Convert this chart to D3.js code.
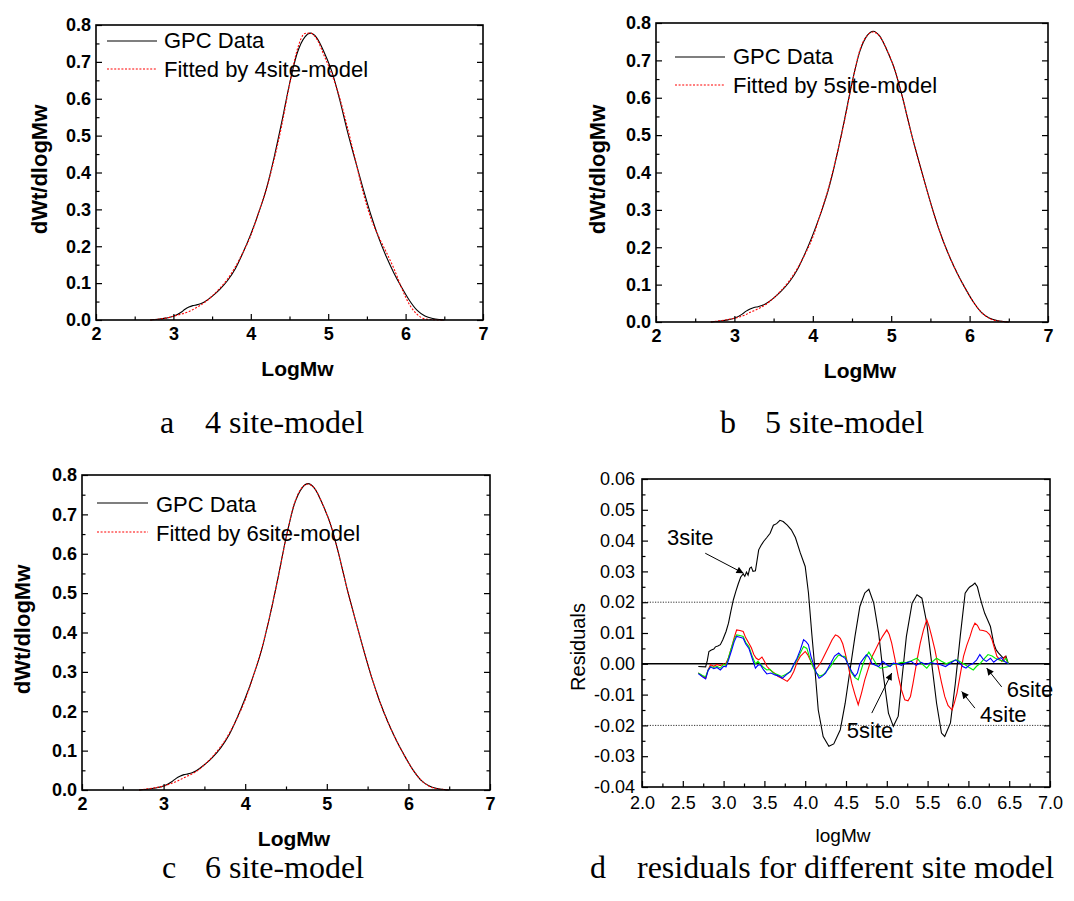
<!DOCTYPE html>
<html>
<head>
<meta charset="utf-8">
<script src="https://cdn.jsdelivr.net/npm/d3@7"></script>
<style>
  html, body { margin: 0; padding: 0; background: #fff; }
  svg { display: block; }
</style>
</head>
<body>
<svg id="chart" width="1074" height="901"></svg>
<script>
// ---------------- DATA ----------------
// GPC molecular weight distribution (logMw, dWt/dlogMw)
const gpcData = [[2.70,0.000],[2.80,0.002],[2.90,0.005],[3.00,0.010],[3.10,0.021],[3.15,0.029],[3.20,0.035],[3.25,0.039],[3.30,0.041],[3.35,0.044],[3.40,0.049],[3.50,0.064],[3.60,0.083],[3.70,0.107],[3.80,0.139],[3.90,0.183],[4.00,0.233],[4.10,0.290],[4.20,0.355],[4.30,0.440],[4.40,0.537],[4.50,0.640],[4.60,0.724],[4.70,0.768],[4.77,0.778],[4.85,0.766],[4.95,0.725],[5.05,0.672],[5.15,0.596],[5.25,0.510],[5.35,0.432],[5.45,0.357],[5.55,0.286],[5.65,0.224],[5.75,0.172],[5.85,0.127],[5.95,0.088],[6.05,0.053],[6.15,0.026],[6.25,0.011],[6.35,0.004],[6.45,0.001],[6.50,0.000]];

const fit4site = [[2.70,0.000],[2.80,0.002],[2.90,0.005],[3.00,0.010],[3.10,0.016],[3.15,0.019],[3.20,0.023],[3.25,0.028],[3.30,0.034],[3.35,0.040],[3.40,0.047],[3.50,0.065],[3.60,0.086],[3.70,0.111],[3.80,0.144],[3.90,0.184],[4.00,0.229],[4.10,0.291],[4.20,0.354],[4.30,0.434],[4.40,0.528],[4.50,0.638],[4.60,0.733],[4.70,0.777],[4.77,0.778],[4.85,0.763],[4.95,0.716],[5.05,0.665],[5.15,0.601],[5.25,0.521],[5.35,0.435],[5.45,0.347],[5.55,0.277],[5.65,0.227],[5.75,0.184],[5.85,0.139],[5.95,0.086],[6.05,0.042],[6.15,0.015],[6.25,0.003],[6.35,0.001],[6.45,0.000],[6.50,0.000]];

const fit5site = [[2.70,0.000],[2.80,0.003],[2.90,0.006],[3.00,0.010],[3.10,0.016],[3.15,0.020],[3.20,0.026],[3.25,0.030],[3.30,0.035],[3.35,0.040],[3.40,0.047],[3.50,0.064],[3.60,0.085],[3.70,0.110],[3.80,0.142],[3.90,0.181],[4.00,0.227],[4.10,0.291],[4.20,0.358],[4.30,0.441],[4.40,0.534],[4.50,0.638],[4.60,0.727],[4.70,0.768],[4.77,0.776],[4.85,0.765],[4.95,0.726],[5.05,0.672],[5.15,0.596],[5.25,0.510],[5.35,0.431],[5.45,0.357],[5.55,0.286],[5.65,0.224],[5.75,0.172],[5.85,0.127],[5.95,0.088],[6.05,0.053],[6.15,0.026],[6.25,0.010],[6.35,0.003],[6.45,0.001],[6.50,0.000]];

const fit6site = [[2.70,0.000],[2.80,0.003],[2.90,0.006],[3.00,0.010],[3.10,0.017],[3.15,0.021],[3.20,0.026],[3.25,0.031],[3.30,0.036],[3.35,0.041],[3.40,0.047],[3.50,0.064],[3.60,0.085],[3.70,0.110],[3.80,0.142],[3.90,0.182],[4.00,0.229],[4.10,0.290],[4.20,0.357],[4.30,0.441],[4.40,0.536],[4.50,0.639],[4.60,0.726],[4.70,0.769],[4.77,0.777],[4.85,0.766],[4.95,0.725],[5.05,0.672],[5.15,0.596],[5.25,0.510],[5.35,0.432],[5.45,0.357],[5.55,0.286],[5.65,0.224],[5.75,0.172],[5.85,0.127],[5.95,0.088],[6.05,0.053],[6.15,0.026],[6.25,0.010],[6.35,0.003],[6.45,0.001],[6.50,0.000]];

// Residuals (logMw, residual)
const resid3site = [[2.69,-0.0009],[2.78,-0.0010],[2.80,0.0010],[2.82,0.0040],[2.85,0.0045],[2.88,0.0048],[2.90,0.0055],[2.93,0.0058],[2.96,0.0062],[2.99,0.0078],[3.03,0.0105],[3.06,0.0132],[3.09,0.0172],[3.12,0.0208],[3.15,0.0235],[3.18,0.0260],[3.21,0.0282],[3.24,0.0292],[3.26,0.0284],[3.28,0.0298],[3.30,0.0288],[3.32,0.0310],[3.34,0.0314],[3.36,0.0300],[3.39,0.0302],[3.43,0.0370],[3.46,0.0385],[3.49,0.0397],[3.53,0.0410],[3.57,0.0424],[3.61,0.0450],[3.65,0.0455],[3.69,0.0466],[3.73,0.0462],[3.78,0.0450],[3.83,0.0435],[3.88,0.0410],[3.94,0.0360],[4.00,0.0316],[4.04,0.0230],[4.08,0.0100],[4.12,-0.0020],[4.16,-0.0150],[4.22,-0.0236],[4.29,-0.0268],[4.35,-0.0260],[4.43,-0.0214],[4.49,-0.0128],[4.55,-0.0019],[4.61,0.0089],[4.67,0.0186],[4.73,0.0230],[4.78,0.0242],[4.84,0.0197],[4.90,0.0100],[4.96,-0.0041],[5.02,-0.0160],[5.08,-0.0203],[5.14,-0.0170],[5.18,-0.0063],[5.24,0.0089],[5.31,0.0197],[5.37,0.0224],[5.43,0.0213],[5.49,0.0132],[5.55,0.0002],[5.61,-0.0128],[5.67,-0.0225],[5.71,-0.0236],[5.78,-0.0192],[5.84,-0.0063],[5.90,0.0089],[5.96,0.0229],[6.00,0.0245],[6.02,0.0250],[6.05,0.0255],[6.08,0.0262],[6.11,0.0250],[6.14,0.0218],[6.17,0.0190],[6.20,0.0164],[6.24,0.0140],[6.27,0.0121],[6.31,0.0067],[6.34,0.0045],[6.37,0.0035],[6.43,0.0018],[6.46,0.0025],[6.49,0.0000]];

const resid4site = [[2.69,-0.0030],[2.74,-0.0040],[2.78,-0.0047],[2.81,-0.0020],[2.84,-0.0003],[2.88,-0.0008],[2.92,-0.0002],[2.96,-0.0006],[3.00,0.0000],[3.02,-0.0004],[3.06,0.0020],[3.10,0.0056],[3.13,0.0085],[3.16,0.0110],[3.20,0.0108],[3.24,0.0105],[3.27,0.0085],[3.31,0.0067],[3.34,0.0052],[3.37,0.0030],[3.40,0.0018],[3.43,0.0013],[3.47,0.0022],[3.50,0.0008],[3.53,-0.0008],[3.57,-0.0020],[3.62,-0.0030],[3.67,-0.0041],[3.72,-0.0048],[3.78,-0.0057],[3.82,-0.0045],[3.86,-0.0025],[3.90,0.0005],[3.94,0.0024],[4.00,0.0040],[4.03,0.0030],[4.06,0.0013],[4.12,-0.0020],[4.16,-0.0008],[4.20,0.0008],[4.25,0.0035],[4.29,0.0056],[4.33,0.0078],[4.37,0.0094],[4.40,0.0090],[4.43,0.0083],[4.46,0.0065],[4.49,0.0035],[4.53,-0.0010],[4.57,-0.0063],[4.61,-0.0100],[4.65,-0.0133],[4.69,-0.0095],[4.73,-0.0052],[4.78,-0.0010],[4.82,0.0024],[4.86,0.0045],[4.90,0.0067],[4.95,0.0090],[5.00,0.0110],[5.03,0.0095],[5.06,0.0067],[5.10,0.0015],[5.14,-0.0041],[5.18,-0.0085],[5.22,-0.0117],[5.26,-0.0120],[5.29,-0.0106],[5.32,-0.0065],[5.35,-0.0020],[5.38,0.0025],[5.41,0.0067],[5.45,0.0110],[5.49,0.0143],[5.52,0.0120],[5.55,0.0089],[5.59,0.0045],[5.63,-0.0009],[5.67,-0.0060],[5.71,-0.0106],[5.75,-0.0135],[5.80,-0.0150],[5.83,-0.0125],[5.86,-0.0095],[5.90,-0.0035],[5.94,0.0024],[5.98,0.0060],[6.02,0.0089],[6.05,0.0115],[6.08,0.0132],[6.11,0.0125],[6.14,0.0110],[6.18,0.0108],[6.22,0.0105],[6.26,0.0095],[6.29,0.0078],[6.32,0.0050],[6.35,0.0024],[6.38,0.0015],[6.41,0.0008],[6.45,0.0024],[6.47,0.0010],[6.49,0.0000]];

const resid5site = [[2.69,-0.0030],[2.74,-0.0038],[2.78,-0.0042],[2.81,-0.0020],[2.84,-0.0009],[2.88,-0.0012],[2.92,-0.0008],[2.96,-0.0014],[3.00,-0.0002],[3.03,-0.0005],[3.06,0.0020],[3.10,0.0056],[3.13,0.0080],[3.16,0.0094],[3.20,0.0092],[3.24,0.0089],[3.27,0.0070],[3.31,0.0056],[3.35,0.0025],[3.39,0.0000],[3.42,0.0008],[3.45,0.0000],[3.49,-0.0012],[3.53,-0.0020],[3.57,-0.0018],[3.61,-0.0030],[3.66,-0.0035],[3.71,-0.0041],[3.76,-0.0035],[3.82,-0.0025],[3.86,-0.0005],[3.90,0.0013],[3.94,0.0035],[3.98,0.0056],[4.02,0.0050],[4.05,0.0025],[4.08,0.0000],[4.11,-0.0018],[4.14,-0.0030],[4.18,-0.0040],[4.22,-0.0036],[4.26,-0.0025],[4.31,-0.0009],[4.36,0.0012],[4.41,0.0029],[4.45,0.0025],[4.49,0.0024],[4.53,-0.0005],[4.57,-0.0030],[4.61,-0.0045],[4.65,-0.0052],[4.68,-0.0025],[4.71,0.0000],[4.75,0.0025],[4.78,0.0038],[4.81,0.0025],[4.84,0.0013],[4.88,-0.0005],[4.92,-0.0014],[4.97,-0.0012],[5.02,-0.0009],[5.07,-0.0002],[5.12,0.0000],[5.18,0.0005],[5.24,0.0004],[5.30,0.0010],[5.37,0.0018],[5.43,0.0000],[5.49,-0.0014],[5.55,0.0005],[5.61,0.0018],[5.67,0.0008],[5.73,0.0000],[5.80,0.0008],[5.86,0.0013],[5.91,0.0005],[5.96,-0.0003],[6.01,-0.0012],[6.06,-0.0020],[6.10,-0.0008],[6.14,0.0000],[6.19,0.0015],[6.24,0.0030],[6.29,0.0025],[6.33,0.0018],[6.38,0.0012],[6.43,0.0008],[6.46,0.0018],[6.49,0.0000]];

const resid6site = [[2.69,-0.0032],[2.74,-0.0042],[2.78,-0.0049],[2.81,-0.0022],[2.84,-0.0010],[2.88,-0.0016],[2.92,-0.0012],[2.96,-0.0020],[3.00,-0.0008],[3.03,-0.0010],[3.06,0.0012],[3.10,0.0045],[3.13,0.0072],[3.16,0.0089],[3.20,0.0086],[3.24,0.0083],[3.27,0.0065],[3.31,0.0050],[3.35,0.0018],[3.39,-0.0014],[3.42,-0.0005],[3.45,-0.0003],[3.49,-0.0020],[3.53,-0.0033],[3.58,-0.0030],[3.63,-0.0036],[3.68,-0.0040],[3.72,-0.0047],[3.77,-0.0035],[3.82,-0.0025],[3.86,-0.0002],[3.90,0.0018],[3.94,0.0045],[3.98,0.0078],[4.01,0.0072],[4.04,0.0062],[4.07,0.0025],[4.10,0.0000],[4.13,-0.0025],[4.17,-0.0047],[4.21,-0.0040],[4.25,-0.0030],[4.31,0.0000],[4.36,0.0025],[4.41,0.0035],[4.45,0.0025],[4.49,0.0018],[4.53,-0.0005],[4.57,-0.0025],[4.61,-0.0041],[4.64,-0.0030],[4.67,0.0000],[4.71,0.0015],[4.75,0.0029],[4.78,0.0022],[4.82,0.0000],[4.86,-0.0005],[4.90,-0.0009],[4.95,0.0008],[5.00,-0.0003],[5.04,-0.0009],[5.08,0.0002],[5.13,0.0000],[5.18,-0.0005],[5.24,0.0003],[5.30,0.0008],[5.36,-0.0005],[5.42,0.0005],[5.48,-0.0002],[5.54,0.0004],[5.60,0.0000],[5.66,-0.0003],[5.72,-0.0009],[5.78,0.0002],[5.84,0.0013],[5.89,0.0004],[5.93,-0.0009],[5.97,-0.0014],[6.01,-0.0005],[6.05,0.0000],[6.10,0.0012],[6.14,0.0030],[6.18,0.0015],[6.22,0.0008],[6.27,0.0018],[6.31,0.0005],[6.35,0.0014],[6.40,0.0020],[6.44,0.0008],[6.49,0.0000]];

// Tick labels
const curveXTicks = ["2","3","4","5","6","7"];
const curveYTicks = ["0.0","0.1","0.2","0.3","0.4","0.5","0.6","0.7","0.8"];
const residXTicks = ["2.0","2.5","3.0","3.5","4.0","4.5","5.0","5.5","6.0","6.5","7.0"];
const residYTicks = ["-0.04","-0.03","-0.02","-0.01","0.00","0.01","0.02","0.03","0.04","0.05","0.06"];

// Legend / annotation labels
const legendLabels = ["GPC Data","Fitted by 4site-model","Fitted by 5site-model","Fitted by 6site-model"];
const captions = ["4 site-model","5 site-model","6 site-model","residuals for different site model"];
const residLabels = ["3site","4site","5site","6site"];

// ---------------- DRAWING ----------------
const svg = d3.select("#chart");
const SANS = "'Liberation Sans', Arial, Helvetica, sans-serif";
const SERIF = "'Liberation Serif', 'Times New Roman', serif";

function frameAxes(g, x, y, opt) {
  const [x0, x1] = x.range();
  const [y0, y1] = y.range(); // y0 bottom, y1 top
  const fw = opt.bold ? "bold" : "normal";
  const styleLines = sel => sel.selectAll("line").attr("stroke", "#000").attr("stroke-width", 1.2);
  // bottom axis major
  const bx = g.append("g").attr("transform", `translate(0,${y0})`)
    .call(d3.axisBottom(x).tickValues(opt.xMajor).tickSize(-opt.major).tickPadding(opt.xPad)
      .tickFormat((d, i) => opt.xLabels[i]));
  bx.select(".domain").remove();
  bx.selectAll("text").attr("font-family", SANS).attr("font-size", opt.tickFont).attr("font-weight", fw).attr("fill", "#000");
  styleLines(bx);
  const bxm = g.append("g").attr("transform", `translate(0,${y0})`)
    .call(d3.axisBottom(x).tickValues(opt.xMinor).tickSize(-opt.minor).tickFormat(""));
  bxm.select(".domain").remove();
  styleLines(bxm);
  // left axis
  const ly = g.append("g").attr("transform", `translate(${x0},0)`)
    .call(d3.axisLeft(y).tickValues(opt.yMajor).tickSize(-opt.major).tickPadding(opt.yPad)
      .tickFormat((d, i) => opt.yLabels[i]));
  ly.select(".domain").remove();
  ly.selectAll("text").attr("font-family", SANS).attr("font-size", opt.tickFont).attr("font-weight", fw).attr("fill", "#000");
  styleLines(ly);
  const lym = g.append("g").attr("transform", `translate(${x0},0)`)
    .call(d3.axisLeft(y).tickValues(opt.yMinor).tickSize(-opt.minor).tickFormat(""));
  lym.select(".domain").remove();
  styleLines(lym);
  // right axis (mirror ticks)
  const ry = g.append("g").attr("transform", `translate(${x1},0)`)
    .call(d3.axisRight(y).tickValues(opt.yMajor).tickSize(-opt.major).tickFormat(""));
  ry.select(".domain").remove();
  styleLines(ry);
  const rym = g.append("g").attr("transform", `translate(${x1},0)`)
    .call(d3.axisRight(y).tickValues(opt.yMinor).tickSize(-opt.minor).tickFormat(""));
  rym.select(".domain").remove();
  styleLines(rym);
  // frame
  g.append("rect").attr("x", x0).attr("y", y1).attr("width", x1 - x0).attr("height", y0 - y1)
    .attr("fill", "none").attr("stroke", "#000").attr("stroke-width", 1.6);
}

function range(a, b, s) { const r = []; for (let v = a; v <= b + 1e-9; v += s) r.push(+v.toFixed(4)); return r; }

function curvePanel(p) {
  const g = svg.append("g");
  const x = d3.scaleLinear().domain([2, 7]).range([p.left, p.right]);
  const y = d3.scaleLinear().domain([0, 0.8]).range([p.bottom, p.top]);
  const line = d3.line().x(d => x(d[0])).y(d => y(d[1])).curve(d3.curveMonotoneX);

  g.append("path").datum(gpcData).attr("d", line).attr("fill", "none").attr("stroke", "#000").attr("stroke-width", 1.1);
  g.append("path").datum(p.fit).attr("d", line).attr("fill", "none").attr("stroke", "#ff0000")
    .attr("stroke-width", 1.1).attr("stroke-dasharray", "2,1.6");

  frameAxes(g, x, y, {
    bold: true, tickFont: 18, major: 6, minor: 3.5, xPad: 7, yPad: 5,
    xMajor: [2, 3, 4, 5, 6, 7], xLabels: curveXTicks, xMinor: [2.5, 3.5, 4.5, 5.5, 6.5],
    yMajor: range(0, 0.8, 0.1), yLabels: curveYTicks, yMinor: range(0.05, 0.75, 0.1)
  });

  // legend
  const L = p.legend;
  g.append("line").attr("x1", p.left + L.x1).attr("x2", p.left + L.x2).attr("y1", p.top + L.y1).attr("y2", p.top + L.y1)
    .attr("stroke", "#000").attr("stroke-width", 1.1);
  g.append("text").attr("x", p.left + L.tx).attr("y", p.top + L.ty1).text(legendLabels[0])
    .attr("font-family", SANS).attr("font-size", 22).attr("fill", "#000");
  g.append("line").attr("x1", p.left + L.x1).attr("x2", p.left + L.x2).attr("y1", p.top + L.y2).attr("y2", p.top + L.y2)
    .attr("stroke", "#ff0000").attr("stroke-width", 1.1).attr("stroke-dasharray", "2,1.6");
  g.append("text").attr("x", p.left + L.tx).attr("y", p.top + L.ty2).text(legendLabels[p.fitIndex])
    .attr("font-family", SANS).attr("font-size", 22).attr("fill", "#000");

  // axis titles
  g.append("text").attr("x", (p.left + p.right) / 2 + 8).attr("y", p.bottom + 56).attr("text-anchor", "middle")
    .text("LogMw").attr("font-family", SANS).attr("font-size", 21).attr("font-weight", "bold");
  g.append("text").attr("transform", `translate(${p.ytx},${(p.top + p.bottom) / 2 - 3}) rotate(-90)`)
    .attr("text-anchor", "middle").text("dWt/dlogMw")
    .attr("font-family", SANS).attr("font-size", 22).attr("font-weight", "bold");

  // caption
  g.append("text").attr("x", p.cap.lx).attr("y", p.cap.y).text(p.cap.letter)
    .attr("font-family", SERIF).attr("font-size", 32);
  g.append("text").attr("x", p.cap.tx).attr("y", p.cap.y).text(captions[p.fitIndex - 1])
    .attr("font-family", SERIF).attr("font-size", 32);
}

curvePanel({ left: 96, right: 483, top: 25, bottom: 320, fit: fit4site, fitIndex: 1, ytx: 47,
  legend: { x1: 11, x2: 61, y1: 16, y2: 44, tx: 68, ty1: 23, ty2: 52 },
  cap: { letter: "a", lx: 160, tx: 205, y: 433 } });
curvePanel({ left: 656, right: 1048, top: 23, bottom: 322, fit: fit5site, fitIndex: 2, ytx: 605,
  legend: { x1: 19, x2: 69, y1: 34, y2: 62, tx: 77, ty1: 41, ty2: 70 },
  cap: { letter: "b", lx: 720, tx: 765, y: 433 } });
curvePanel({ left: 82, right: 490, top: 475, bottom: 790, fit: fit6site, fitIndex: 3, ytx: 30,
  legend: { x1: 15, x2: 66, y1: 28, y2: 57, tx: 74, ty1: 37, ty2: 66 },
  cap: { letter: "c", lx: 162, tx: 205, y: 878 } });

// ---------- Residual panel ----------
(function () {
  const P = { left: 642, right: 1050, top: 479, bottom: 787 };
  const g = svg.append("g");
  const x = d3.scaleLinear().domain([2, 7]).range([P.left, P.right]);
  const y = d3.scaleLinear().domain([-0.04, 0.06]).range([P.bottom, P.top]);
  const line = d3.line().x(d => x(d[0])).y(d => y(d[1])).curve(d3.curveLinear);

  // reference lines
  [0.02, -0.02].forEach(v => {
    g.append("line").attr("x1", P.left).attr("x2", P.right).attr("y1", y(v)).attr("y2", y(v))
      .attr("stroke", "#333").attr("stroke-width", 1).attr("stroke-dasharray", "1.2,1.4");
  });
  g.append("line").attr("x1", P.left).attr("x2", P.right).attr("y1", y(0)).attr("y2", y(0))
    .attr("stroke", "#000").attr("stroke-width", 1.4);

  const series = [
    { d: resid3site, c: "#000000" },
    { d: resid4site, c: "#ff0000" },
    { d: resid5site, c: "#00ee00" },
    { d: resid6site, c: "#0000ff" }
  ];
  series.forEach(s => {
    g.append("path").datum(s.d).attr("d", line).attr("fill", "none").attr("stroke", s.c).attr("stroke-width", 1.1);
  });

  frameAxes(g, x, y, {
    bold: false, tickFont: 18, major: 6, minor: 3.5, xPad: 9, yPad: 7,
    xMajor: range(2, 7, 0.5), xLabels: residXTicks, xMinor: range(2.25, 6.75, 0.5),
    yMajor: range(-0.04, 0.06, 0.01), yLabels: residYTicks, yMinor: range(-0.035, 0.055, 0.01)
  });

  g.append("text").attr("x", (P.left + P.right) / 2 - 3).attr("y", 842).attr("text-anchor", "middle")
    .text("logMw").attr("font-family", SANS).attr("font-size", 19);
  g.append("text").attr("transform", `translate(585,647) rotate(-90)`).attr("text-anchor", "middle")
    .text("Residuals").attr("font-family", SANS).attr("font-size", 20);

  // annotations with arrows
  const defs = svg.append("defs");
  defs.append("marker").attr("id", "arrow").attr("viewBox", "0 0 10 10").attr("refX", 10).attr("refY", 5)
    .attr("markerWidth", 9).attr("markerHeight", 7).attr("markerUnits", "userSpaceOnUse").attr("orient", "auto")
    .append("path").attr("d", "M0,0 L10,5 L0,10 z").attr("fill", "#000");

  const notes = [
    { label: residLabels[0], tx: 2.306, ty: 0.0386, from: [2.775, 0.0359], to: [3.244, 0.0294] },
    { label: residLabels[2], tx: 4.51, ty: -0.0241, from: [4.816, -0.0160], to: [5.061, -0.0030] },
    { label: residLabels[1], tx: 6.143, ty: -0.0188, from: [6.080, -0.0144], to: [5.918, -0.0090] },
    { label: residLabels[3], tx: 6.469, ty: -0.0107, from: [6.408, -0.0075], to: [6.224, -0.0014] }
  ];
  notes.forEach(n => {
    g.append("line").attr("x1", x(n.from[0])).attr("y1", y(n.from[1])).attr("x2", x(n.to[0])).attr("y2", y(n.to[1]))
      .attr("stroke", "#000").attr("stroke-width", 1).attr("marker-end", "url(#arrow)");
    g.append("text").attr("x", x(n.tx)).attr("y", y(n.ty)).text(n.label)
      .attr("font-family", SANS).attr("font-size", 22).attr("fill", "#000");
  });

  g.append("text").attr("x", 590).attr("y", 878).text("d").attr("font-family", SERIF).attr("font-size", 32);
  g.append("text").attr("x", 637).attr("y", 878).text(captions[3]).attr("font-family", SERIF).attr("font-size", 32);
})();
</script>
</body>
</html>
